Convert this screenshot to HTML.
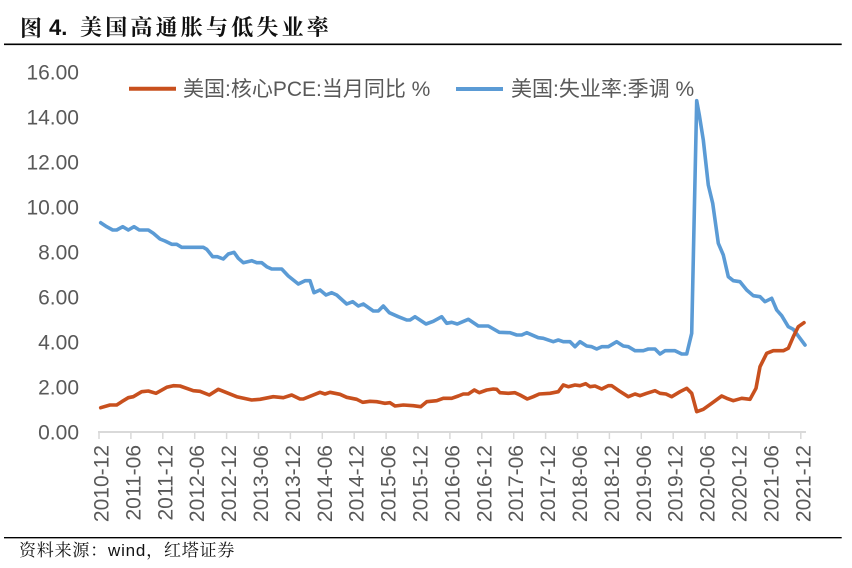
<!DOCTYPE html>
<html><head><meta charset="utf-8">
<style>
html,body{margin:0;padding:0;background:#fff;}
body{width:852px;height:568px;position:relative;overflow:hidden;}
.t{position:absolute;white-space:nowrap;}
</style></head>
<body>
<div class="t" style="left:20px;top:14px;font:700 22px 'Noto Serif CJK SC','Noto Sans CJK SC',serif;color:#111;line-height:28px;">图</div>
<div class="t" style="left:49px;top:14px;font:700 22px 'Liberation Sans',sans-serif;color:#111;line-height:28px;">4.</div>
<div class="t" style="left:80px;top:14px;font:700 22px 'Liberation Serif','Noto Serif CJK SC',serif;color:#111;line-height:28px;letter-spacing:3.2px;">美国高通胀与低失业率</div>
<svg width="852" height="568" style="position:absolute;left:0;top:0" xmlns="http://www.w3.org/2000/svg">
<line x1="4" y1="44.3" x2="841.7" y2="44.3" stroke="#000" stroke-width="1.6"/>
<line x1="4" y1="537.7" x2="841.7" y2="537.7" stroke="#000" stroke-width="1.4"/>
<g font-family="Liberation Sans, sans-serif" font-size="21" fill="#595959" text-anchor="end">
<text x="79" y="79.5">16.00</text>
<text x="79" y="124.5">14.00</text>
<text x="79" y="169.5">12.00</text>
<text x="79" y="214.5">10.00</text>
<text x="79" y="259.5">8.00</text>
<text x="79" y="304.5">6.00</text>
<text x="79" y="349.5">4.00</text>
<text x="79" y="394.5">2.00</text>
<text x="79" y="439.5">0.00</text>
</g>
<line x1="98" y1="432" x2="806" y2="432" stroke="#D9D9D9" stroke-width="2"/>
<g stroke="#D9D9D9" stroke-width="1.5">
<line x1="99" y1="432" x2="99" y2="439"/><line x1="130.9" y1="432" x2="130.9" y2="439"/><line x1="162.8" y1="432" x2="162.8" y2="439"/><line x1="194.7" y1="432" x2="194.7" y2="439"/><line x1="226.6" y1="432" x2="226.6" y2="439"/><line x1="258.5" y1="432" x2="258.5" y2="439"/><line x1="290.4" y1="432" x2="290.4" y2="439"/><line x1="322.3" y1="432" x2="322.3" y2="439"/><line x1="354.2" y1="432" x2="354.2" y2="439"/><line x1="386.1" y1="432" x2="386.1" y2="439"/><line x1="418" y1="432" x2="418" y2="439"/><line x1="449.9" y1="432" x2="449.9" y2="439"/><line x1="481.8" y1="432" x2="481.8" y2="439"/><line x1="513.7" y1="432" x2="513.7" y2="439"/><line x1="545.6" y1="432" x2="545.6" y2="439"/><line x1="577.5" y1="432" x2="577.5" y2="439"/><line x1="609.4" y1="432" x2="609.4" y2="439"/><line x1="641.3" y1="432" x2="641.3" y2="439"/><line x1="673.2" y1="432" x2="673.2" y2="439"/><line x1="705.1" y1="432" x2="705.1" y2="439"/><line x1="737" y1="432" x2="737" y2="439"/><line x1="768.9" y1="432" x2="768.9" y2="439"/><line x1="800.8" y1="432" x2="800.8" y2="439"/>
</g>
<g font-family="Liberation Sans, sans-serif" font-size="21" fill="#595959" text-anchor="end">
<text transform="translate(108.5,445) rotate(-90)">2010-12</text>
<text transform="translate(140.4,445) rotate(-90)">2011-06</text>
<text transform="translate(172.3,445) rotate(-90)">2011-12</text>
<text transform="translate(204.2,445) rotate(-90)">2012-06</text>
<text transform="translate(236.1,445) rotate(-90)">2012-12</text>
<text transform="translate(268,445) rotate(-90)">2013-06</text>
<text transform="translate(299.9,445) rotate(-90)">2013-12</text>
<text transform="translate(331.8,445) rotate(-90)">2014-06</text>
<text transform="translate(363.7,445) rotate(-90)">2014-12</text>
<text transform="translate(395.6,445) rotate(-90)">2015-06</text>
<text transform="translate(427.5,445) rotate(-90)">2015-12</text>
<text transform="translate(459.4,445) rotate(-90)">2016-06</text>
<text transform="translate(491.3,445) rotate(-90)">2016-12</text>
<text transform="translate(523.2,445) rotate(-90)">2017-06</text>
<text transform="translate(555.1,445) rotate(-90)">2017-12</text>
<text transform="translate(587,445) rotate(-90)">2018-06</text>
<text transform="translate(618.9,445) rotate(-90)">2018-12</text>
<text transform="translate(650.8,445) rotate(-90)">2019-06</text>
<text transform="translate(682.7,445) rotate(-90)">2019-12</text>
<text transform="translate(714.6,445) rotate(-90)">2020-06</text>
<text transform="translate(746.5,445) rotate(-90)">2020-12</text>
<text transform="translate(778.4,445) rotate(-90)">2021-06</text>
<text transform="translate(810.3,445) rotate(-90)">2021-12</text>
</g>
<polyline fill="none" stroke="#5B9BD5" stroke-width="3.6" stroke-linejoin="round" stroke-linecap="round" points="100.7,222.7 106.7,226.7 112.7,230 116.7,230 122.7,226.7 128.3,230 134,226.7 139.3,230 148.3,230 153.3,233.3 160,239 165,241 171.7,244.3 176.7,244.3 181.7,247.3 203.3,247.3 206.7,249.3 212.7,256.7 217.3,256.7 223.3,259 228.3,254 234,252.3 238.3,258.3 243.3,262.7 251.7,260.7 256.7,262.7 261.7,262.7 266.7,266.7 271.7,269 281.7,269 288.3,276 298.3,284 305,280.7 310,280.7 314,292.7 320,290 326,295 331.7,292.7 336.7,295 346.7,304 352.7,301.7 358.3,306 363.3,304 373.3,311 378.3,311 383.3,306 389.3,312.7 398.3,316.7 406.7,320 410,320 415,316.7 426,324 433.3,321.3 441.7,316.7 446.7,323.3 451.7,322.3 457.3,324 468.3,319.3 478.3,326 488.3,326 499.3,332.3 510,332.7 516.7,335 521.7,335 526.7,332.7 538.3,337.7 543.3,338.3 553.3,341.7 558.3,340 563.3,341.7 570,341.7 575,346.7 580,341.7 586.7,346 591.7,346.7 596.7,349 601.7,346.7 608.3,346.7 616.7,341.7 623.3,346 628.3,346.7 635,350.7 643.3,350.7 648.3,349 655,349 660,354 665,350.7 675,350.7 681.7,354 686.7,354 691.7,333.3 696.7,100.7 699.3,115 703.3,140 708.3,185 712.7,203.3 718.3,243.3 723.3,255 728.3,276.7 733.3,280.7 740,281.7 746.7,290 753.3,295.7 760,296.7 765,301.7 771.7,298.3 776.7,310 781.7,315.7 788.3,326.7 793.3,329.3 805,345"/>
<polyline fill="none" stroke="#C8501E" stroke-width="3.6" stroke-linejoin="round" stroke-linecap="round" points="100.7,407.7 110,405 116.7,405 121.7,401.7 128.3,397.7 133.3,396.7 141.7,391.7 148.3,391 156,393.3 166.7,387.3 173.3,385.7 180,386 193.3,390.7 200,391.3 209.3,395 218.3,389.3 236.7,396.7 251.7,400 260,399.3 273.3,396.7 283.3,397.7 291.7,395 300,399 303.3,399 320,392.3 325,394 330,392.3 340,394.3 346.7,397.3 356.7,399.3 362.7,402.3 370,401.3 376.7,401.7 385,403.3 390,402.7 395,406 403.3,405 413.3,405.7 420.7,406.7 426.7,401.7 436.7,400.7 443.3,398.3 451.7,398.3 458.3,396 463.3,394 468.3,394 474.3,390 479.3,392.7 486.7,390 493.3,389 496.7,389.3 500,392.7 508.3,393.3 515,392.7 520,395 527.3,399 533.3,396.7 539.3,394 550,393.3 558.3,391.7 563.3,385 568.3,386.7 575,385 580,385.7 585.7,383.7 590,386.7 595,386 601.7,389 608.3,385.7 611.7,385.7 619.3,391 628.3,396.7 635,394 640,395.7 646.7,393.3 655,390.7 660,393.3 666,394 671.7,396.7 680,391.7 686.7,388.3 691.7,393.3 696.7,411.7 703.3,409.3 711.7,403.3 721.7,396 726.7,398.3 733.3,400.7 741.7,398.3 750,399.3 756,388.3 760,366.7 766.7,353.3 773.3,350.7 783.3,350.7 788.3,348.3 793.3,336.7 798.3,326.7 804,322.7"/>
<line x1="129" y1="88.7" x2="176" y2="88.7" stroke="#C8501E" stroke-width="4"/>
<line x1="456" y1="89" x2="503" y2="89" stroke="#5B9BD5" stroke-width="4"/>
<g font-family="Liberation Sans, Noto Sans CJK SC, sans-serif" font-size="21" fill="#595959">
<text x="183" y="96">美国:核心PCE:当月同比 %</text>
<text x="511" y="96">美国:失业率:季调 %</text>
</g>
</svg>
<div class="t" style="left:19px;top:540px;font:400 17px 'Liberation Sans','Noto Serif CJK SC',serif;color:#111;line-height:22px;letter-spacing:0.8px;">资料来源：wind，红塔证券</div>
</body></html>
